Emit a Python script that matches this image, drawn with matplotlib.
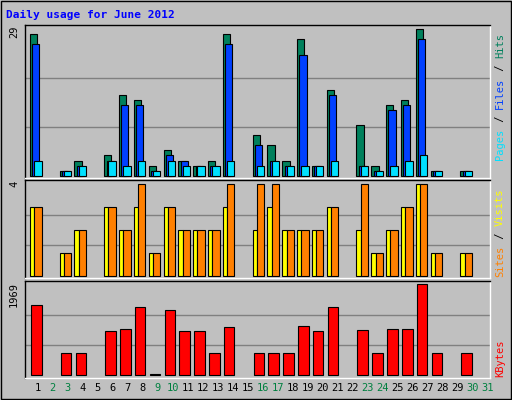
import matplotlib
matplotlib.use("Agg")
import matplotlib.pyplot as plt
import numpy as np

days = list(range(1, 32))
hits  = [28,0,1,3,0,4,16,15,2,5,3,2,3,28,0,8,6,3,27,2,17,0,10,2,14,15,29,1,0,1,0]
files = [26,0,1,2,0,3,14,14,1,4,3,2,2,26,0,6,3,2,24,2,16,0,2,1,13,14,27,1,0,1,0]
pages = [3,0,1,2,0,3,2,3,1,3,2,2,2,3,0,2,3,2,2,2,3,0,2,1,2,3,4,1,0,1,0]
sites = [3,0,1,2,0,3,2,3,1,3,2,2,2,3,0,2,3,2,2,2,3,0,2,1,2,3,4,1,0,1,0]
visits= [3,0,1,2,0,3,2,4,1,3,2,2,2,4,0,4,4,2,2,2,3,0,4,1,2,3,4,1,0,1,0]
kbytes= [1516,0,482,482,0,955,999,1473,29,1408,955,955,482,1042,0,482,482,482,1063,955,1473,0,977,482,999,999,1969,482,0,482,0]
weekend = [2,3,9,10,16,17,23,24,30,31]

W, H = 512, 400
fig = plt.figure(figsize=(W/100, H/100), dpi=100, facecolor="#C0C0C0")
mono = "DejaVu Sans Mono"

def ax_at(x0, y0, x1, y1):
    ax = fig.add_axes([x0/W, 1-y1/H, (x1-x0)/W, (y1-y0)/H])
    ax.set_facecolor("#C0C0C0")
    ax.set_xticks([]); ax.set_yticks([])
    for s in ax.spines.values():
        s.set_color("black"); s.set_linewidth(1)
    ax.spines["right"].set_color("white"); ax.spines["bottom"].set_color("white")
    ax.set_xlim(0.667, 32.0)
    return ax

x = np.array(days, dtype=float)
kw = dict(edgecolor="black", linewidth=0.8, align="edge")

# top panel
a1 = ax_at(25, 25, 490, 178)
a1.set_ylim(-0.46, 29.86)
for f in (1/3, 2/3):
    a1.axhline(29*f, color="#808080", lw=1, zorder=0)
m = np.array(hits) > 0
a1.bar(x[m], np.array(hits)[m], width=0.49, color="#00805C", **kw)
a1.bar(x[m]+0.16, np.array(files)[m], width=0.48, color="#0040FF", **kw)
a1.bar(x[m]+0.29, np.array(pages)[m], width=0.49, color="#00E0FF", **kw)

# middle panel
a2 = ax_at(25, 180, 490, 278)
a2.set_ylim(-0.1, 4.19)
for f in (1/3, 2/3):
    a2.axhline(4*f, color="#808080", lw=1, zorder=0)
m = np.array(visits) > 0
a2.bar(x[m], np.array(sites)[m], width=0.29, color="#FFFF00", **kw)
a2.bar(x[m]+0.29, np.array(visits)[m], width=0.49, color="#FF8000", **kw)

# bottom panel
a3 = ax_at(25, 281, 490, 378)
a3.set_ylim(-57, 2041)
for f in (1/3, 2/3):
    a3.axhline(1969*f, color="#808080", lw=1, zorder=0)
kb = np.array(kbytes)
m = kb > 0
a3.bar(x[m]+0.07, kb[m], width=0.71, color="#FF0000", **kw)

# day labels
for d in days:
    xf = (25 + (d - 0.667 + 0.5) * 15) / W
    fig.text(xf, 1-388/H, str(d), ha="center", va="center", fontsize=7.5,
             family=mono, color="#008040" if d in weekend else "black")

fig.text(6/W, 1-15/H, "Daily usage for June 2012", fontsize=8, family=mono,
         weight="bold", color="#0000FF", va="center")

# left max labels
fig.text(14/W, 1-26/H, "29", rotation=90, fontsize=7.5, family=mono, ha="center", va="top")
fig.text(14/W, 1-181/H, "4", rotation=90, fontsize=7.5, family=mono, ha="center", va="top")
fig.text(14/W, 1-282/H, "1969", rotation=90, fontsize=7.5, family=mono, ha="center", va="top")

def vlabel(parts, ybottom):
    y = ybottom
    for txt, col in parts:
        fig.text(500/W, 1-y/H, txt, rotation=90, fontsize=7.5, family=mono,
                 color=col, ha="center", va="bottom")
        y -= 6.4 * len(txt)

vlabel([("Pages", "#00E0FF"), (" / ", "black"), ("Files", "#0040FF"),
        (" / ", "black"), ("Hits", "#00805C")], 160)
vlabel([("Sites", "#FF8000"), (" / ", "black"), ("Visits", "#FFFF00")], 277)
vlabel([("KBytes", "#FF0000")], 377)

# outer border
fig.add_artist(plt.Rectangle((0.002, 0.002), 0.996, 0.996, transform=fig.transFigure,
                             fill=False, edgecolor="black", lw=1))
fig.savefig("out.png", dpi=100, facecolor=fig.get_facecolor())
